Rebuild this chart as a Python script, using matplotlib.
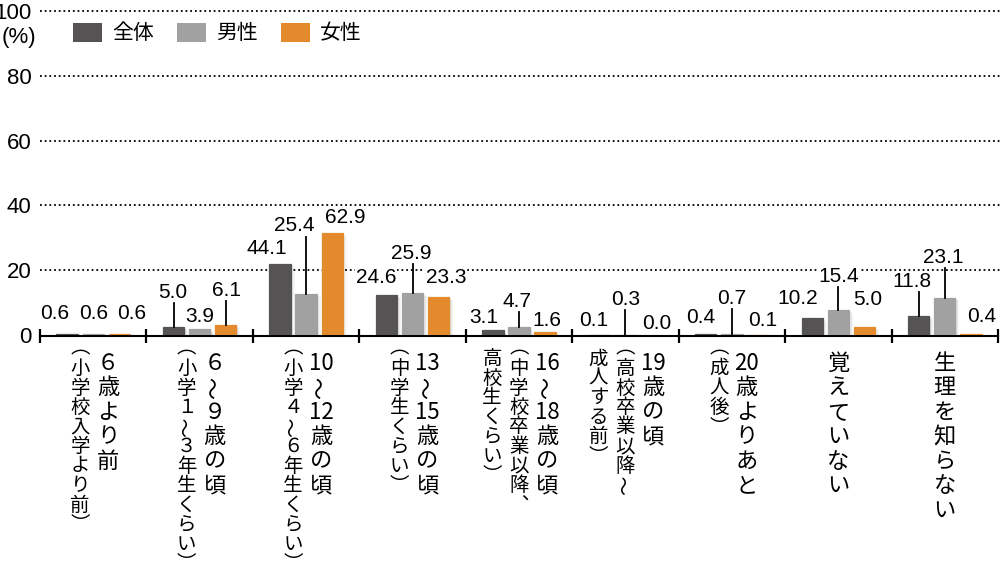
import numpy as np
import matplotlib
matplotlib.use("Agg")
import matplotlib.pyplot as plt
from matplotlib.patches import Rectangle
from matplotlib.transforms import blended_transform_factory

# data
series = ["全体", "男性", "女性"]
colors = ["#555354", "#a1a1a1", "#e38b2c"]
cat_main = ["６歳より前", "６～９歳の頃", "10～12歳の頃", "13～15歳の頃", "16～18歳の頃",
            "19歳の頃", "20歳よりあと", "覚えていない", "生理を知らない"]
cat_sub = [["（小学校入学より前）"], ["（小学１～３年生くらい）"], ["（小学４～６年生くらい）"],
           ["（中学生くらい）"], ["（中学校卒業以降、", "高校生くらい）"],
           ["（高校卒業以降～", "成人する前）"], ["（成人後）"], [], []]
total = [0.6, 5.0, 44.1, 24.6, 3.1, 0.1, 0.4, 10.2, 11.8]
male = [0.6, 3.9, 25.4, 25.9, 4.7, 0.3, 0.7, 15.4, 23.1]
female = [0.6, 6.1, 62.9, 23.3, 1.6, 0.0, 0.1, 5.0, 0.4]
values = [total, male, female]
yticks = [0, 20, 40, 60, 80, 100]

# the source graphic draws the bars at half scale
BAR_SCALE = 0.5

# label layout (offset from group centre, baseline height)
label_dx = [[-0.36, 0, 0.365], [-0.25, 0, 0.25], [-0.37, -0.11, 0.365],
            [-0.34, -0.015, 0.315], [-0.33, -0.02, 0.26], [-0.295, 0, 0.29],
            [-0.29, 0, 0.29], [-0.38, 0, 0.28], [-0.31, -0.015, 0.35]]
label_y = [[4.9, 4.9, 4.9], [11.4, 4.0, 12.0], [24.9, 32.0, 34.5],
           [16.0, 23.4, 16.0], [3.7, 8.6, 2.8], [2.8, 9.2, 1.8],
           [3.7, 9.5, 2.8], [9.5, 16.3, 9.2], [14.8, 22.2, 4.0]]
leaders = [(1, 0), (1, 2), (2, 1), (3, 1), (4, 1), (5, 1), (6, 1), (7, 1), (8, 0), (8, 1)]

W, H = 1000, 568
NUM = ["Liberation Sans", "DejaVu Sans"]
CJK = ["Noto Sans CJK JP", "DejaVu Sans"]

fig = plt.figure(figsize=(W / 100, H / 100), dpi=100)
ax = fig.add_axes([40 / W, (H - 335) / H, 958 / W, 324 / H])
ax.set_xlim(-0.5, 8.5)
ax.set_ylim(0, 100)
for s in ax.spines.values():
    s.set_visible(False)
ax.set_xticks([])
ax.set_yticks(yticks)
ax.set_yticklabels([str(t) for t in yticks], family=NUM, fontsize=16,
                   va="center_baseline")
ax.tick_params(axis="y", length=0, pad=6)

x = np.arange(len(cat_main))
off, bw = 0.245, 0.2

ax.hlines(yticks[1:], -0.5, 8.52, colors="black", linestyles=(0, (1, 1.6)),
          linewidth=1.3, zorder=1, clip_on=False)

for k, (vals, c) in enumerate(zip(values, colors)):
    h = np.array(vals) * BAR_SCALE
    xs = x + (k - 1) * off
    # soft shadow
    for j, a in enumerate([0.06, 0.05, 0.04]):
        ax.bar(xs + 0.012 * (j + 1), h, bw, bottom=-0.3 * (j + 1), color="black",
               alpha=a, zorder=2, linewidth=0)
    lw = [0.9 if v > 0 else 0 for v in vals]
    ax.bar(xs, h, bw, color=c, edgecolor=c, linewidth=lw, zorder=6)

for g in range(len(x)):
    for k in range(3):
        ax.text(x[g] + label_dx[g][k], label_y[g][k], f"{values[k][g]:.1f}",
                ha="center", va="baseline", family=NUM, fontsize=15, zorder=2.5,
                bbox=dict(facecolor="white", edgecolor="none", pad=0.5))

for g, k in leaders:
    xs = x[g] + (k - 1) * off
    ax.plot([xs, xs], [values[k][g] * BAR_SCALE, label_y[g][k] - 1.6],
            color="black", lw=1.3, zorder=7)

# baseline and group separators
ax.plot([-0.5, 8.5], [-0.4, -0.4], color="black", lw=1.5, zorder=5, clip_on=False)
ax.vlines(np.arange(-0.5, 9.0, 1.0), -2.5, 2.0, colors="black", lw=1.6,
          zorder=5, clip_on=False)

fig.text(19 / W, (H - 38) / H, "(%)", ha="center", va="center", family=NUM, fontsize=16)

# legend
for k, (name, c) in enumerate(zip(series, colors)):
    x0 = 73 + k * 104
    fig.add_artist(Rectangle((x0 / W, (H - 42) / H), 29 / W, 19 / H,
                             transform=fig.transFigure, facecolor=c, edgecolor="none"))
    fig.text((x0 + 39) / W, (H - 33) / H, name, ha="left", va="center",
             family=CJK, fontsize=15)

# vertical category labels
tr = blended_transform_factory(ax.transData, fig.transFigure)
vmap = {"（": "︵", "）": "︶", "、": "︑"}
vshift = {"（": -6, "）": 5}


def tokens(s):
    out = []
    i = 0
    while i < len(s):
        if s[i].isascii() and s[i].isdigit():
            j = i
            while j < len(s) and s[j].isascii() and s[j].isdigit():
                j += 1
            out.append(s[i:j])
            i = j
        else:
            out.append(s[i])
            i += 1
    return out


def vcolumn(xd, s, top, pitch, size, paren=0.5):
    cur = top
    for t in tokens(s):
        slot = pitch * paren if t in "（）" else pitch
        yc = cur + slot / 2 + vshift.get(t, 0)
        cur += slot
        rot = 90 if t == "～" else 0
        ax.text(xd, (H - yc) / H, vmap.get(t, t), transform=tr, ha="center",
                va="center", rotation=rot, family=CJK, fontsize=size)


px = 958 / 9  # pixels per group
for g in range(len(x)):
    subs = cat_sub[g]
    if len(subs) == 0:
        mx = 0
    elif len(subs) == 1:
        mx = 15
    else:
        mx = 28
    vcolumn(x[g] + mx / px, cat_main[g], 351, 24.5, 16)
    for j, s in enumerate(subs):
        sx = (-13 if len(subs) == 1 else -27 * j)
        vcolumn(x[g] + sx / px, s, 349, 19.5, 14)

fig.savefig("out.png", dpi=100)
